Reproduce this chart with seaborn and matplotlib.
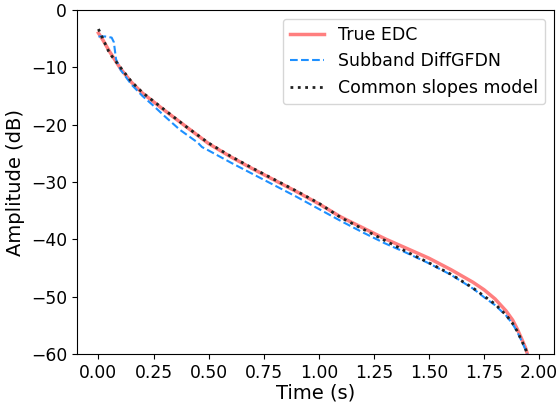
import numpy as np
import pandas as pd
import matplotlib
matplotlib.use("Agg")
import matplotlib.pyplot as plt
import seaborn as sns

t_true = [0.0, 0.02, 0.05, 0.1, 0.15, 0.2, 0.25, 0.3, 0.4, 0.5, 0.6, 0.7, 0.8, 0.9, 1.0,
          1.1, 1.2, 1.3, 1.4, 1.5, 1.6, 1.7, 1.75, 1.8, 1.85, 1.88, 1.9, 1.92, 1.94, 1.95]
edc_true = [-4.0, -5.2, -7.2, -10.2, -12.6, -14.5, -16.0, -17.5, -20.4, -23.3, -25.6, -27.7, -29.7,
            -31.7, -33.8, -36.1, -38.0, -39.9, -41.6, -43.3, -45.3, -47.5, -48.8, -50.4, -52.5,
            -54.1, -55.6, -57.3, -59.1, -60.5]

t_sub = [0.0, 0.03, 0.06, 0.07, 0.08, 0.1, 0.15, 0.2, 0.25, 0.3, 0.37, 0.45, 0.47, 0.5, 0.6, 0.7,
         0.8, 0.9, 1.0, 1.1, 1.2, 1.3, 1.4, 1.5, 1.6, 1.7, 1.75, 1.8, 1.85, 1.88, 1.9, 1.92, 1.94, 1.95]
edc_sub = [-4.6, -4.6, -4.8, -5.6, -8.6, -10.4, -13.0, -15.0, -16.7, -18.5, -20.9, -23.1, -23.9,
           -24.5, -26.6, -28.6, -30.6, -32.6, -34.7, -36.8, -38.8, -40.7, -42.4, -44.2, -46.2,
           -48.6, -50.1, -51.5, -53.3, -54.8, -56.1, -57.7, -59.4, -60.6]

t_cs = [0.0, 0.02, 0.05, 0.1, 0.15, 0.2, 0.25, 0.3, 0.4, 0.5, 0.6, 0.7, 0.8, 0.9, 1.0,
        1.1, 1.2, 1.3, 1.4, 1.5, 1.6, 1.7, 1.75, 1.8, 1.85, 1.88, 1.9, 1.92, 1.94, 1.95]
edc_cs = [-3.3, -5.0, -7.5, -10.0, -12.5, -14.4, -15.9, -17.4, -20.4, -23.2, -25.5, -27.6, -29.6,
          -31.6, -33.7, -36.2, -38.2, -40.2, -42.2, -44.1, -46.1, -48.5, -49.9, -51.3, -53.2,
          -54.7, -56.0, -57.6, -59.3, -60.6]

xticks = [0.0, 0.25, 0.5, 0.75, 1.0, 1.25, 1.5, 1.75, 2.0]
xticklabels = ["0.00", "0.25", "0.50", "0.75", "1.00", "1.25", "1.50", "1.75", "2.00"]

fig, ax = plt.subplots(figsize=(5.58, 4.04), dpi=100)
fig.subplots_adjust(left=0.1375, right=0.993, top=0.975, bottom=0.124)

sns.lineplot(x=t_true, y=edc_true, ax=ax, color="#ff7f7f", lw=2.5, label="True EDC")
sns.lineplot(x=t_sub, y=edc_sub, ax=ax, color="#1e90ff", lw=1.5, linestyle="--",
             label="Subband DiffGFDN")
sns.lineplot(x=t_cs, y=edc_cs, ax=ax, color="#222222", lw=2.0, linestyle=":",
             label="Common slopes model")

ax.set_ylim(-60, 0)
ax.set_xlim(-0.0985, 2.068)
ax.set_xticks(xticks)
ax.set_xticklabels(xticklabels)
ax.set_xlabel("Time (s)", fontsize=14, labelpad=1)
ax.set_ylabel("Amplitude (dB)", fontsize=14)
ax.tick_params(labelsize=12.3)
ax.legend(loc="upper right", fontsize=12.5)

fig.savefig("out.png", dpi=100)
